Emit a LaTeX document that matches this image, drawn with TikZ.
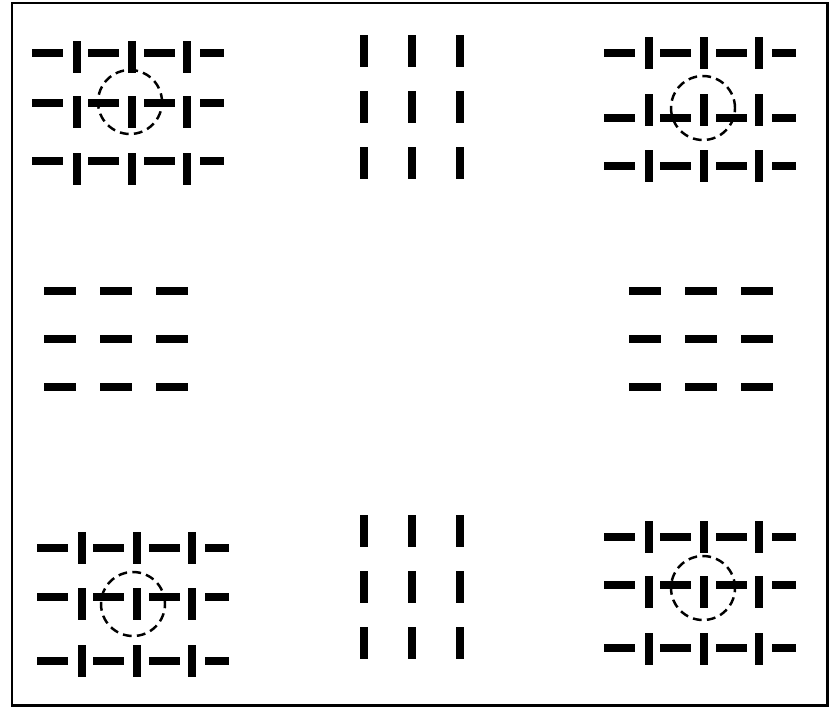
\documentclass[tikz,border=0pt]{standalone}
\usepackage{tikz}
\usetikzlibrary{calc}
\tikzset{
  hbar/.style={line width=4.5pt, color=black},
  vbar/.style={line width=4.5pt, color=black},
  ring/.style={line width=1.4pt, dash pattern=on 5pt off 3pt, color=black},
  frameline/.style={line width=1.3pt, color=black}
}
\begin{document}
\begin{tikzpicture}[x=0.02cm, y=-0.02cm]
  \useasboundingbox (0,0) rectangle (830,708);
  \draw[frameline] (12,3) rectangle (827.5,705.5);
  \foreach \bx/\ya/\va/\yb/\vb/\yc/\vc/\cx/\cy in
    {32/53/57/103/112/161/169/130/102,
     604/53/53/118/110/166/166/703/108,
     37/548/548/597/604/661/661/133/604,
     604/537/537/585/592/648/649/703/588}{
    \foreach \hy/\vy in {\ya/\va,\yb/\vb,\yc/\vc}{
      \foreach \dx in {0,56,112}
        \draw[hbar] (\bx+\dx,\hy) -- ++(31,0);
      \draw[hbar] (\bx+168,\hy) -- ++(24,0);
      \foreach \dx in {45,100,155}
        \draw[vbar] (\bx+\dx,\vy-16) -- ++(0,32);
    }
    \draw[ring] (\cx,\cy) circle[radius=0.64cm];
  }
  \foreach \vx in {364,412,460}
    \foreach \vy in {51,107,163,531,587,643}
      \draw[vbar] (\vx,\vy-16) -- ++(0,32);
  \foreach \hx in {44,100,156,629,685,741}
    \foreach \hy in {291,339,387}
      \draw[hbar] (\hx,\hy) -- ++(32,0);
\end{tikzpicture}
\end{document}
